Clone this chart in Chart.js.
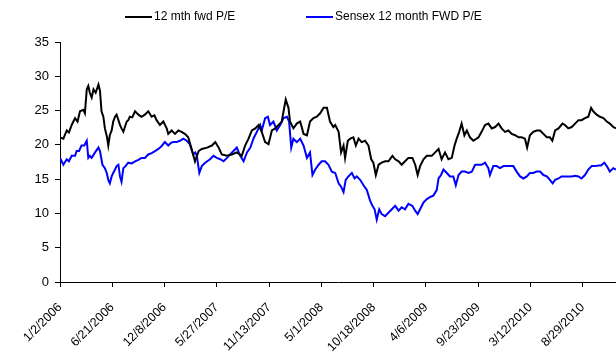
<!DOCTYPE html>
<html>
<head>
<meta charset="utf-8">
<script src="https://cdn.jsdelivr.net/npm/chart.js@4/dist/chart.umd.min.js"></script>
<style>
  html, body { margin: 0; padding: 0; background: #fff; }
  #wrap { position: relative; width: 616px; height: 351px; }
</style>
</head>
<body>
<div id="wrap"><canvas id="pe-chart"></canvas></div>
<script>
// days counted from 1/2/2006
var peDay = [0, 11, 22, 29, 38, 49, 57, 65, 76, 81, 87, 92, 97, 103, 109, 116, 125, 130, 135, 141,
  146, 153, 157, 162, 168, 173, 179, 184, 190, 195, 200, 206, 211, 217, 222, 227, 235, 244, 255, 265,
  276, 287, 298, 307, 314, 325, 336, 347, 352, 363, 374, 385, 395, 406, 417, 428, 439, 451, 461, 478,
  494, 505, 516, 526, 543, 559, 575, 591, 602, 613, 624, 635, 646, 656, 667, 678, 689, 700, 711, 721,
  727, 734, 743, 748, 759, 770, 781, 792, 803, 813, 824, 835, 846, 857, 868, 878, 889, 895, 906, 914,
  922, 927, 936, 944, 954, 962, 971, 981, 992, 1003, 1012, 1019, 1027, 1036, 1046, 1057, 1068, 1081, 1090, 1101,
  1111, 1122, 1133, 1146, 1155, 1163, 1171, 1182, 1193, 1209, 1220, 1231, 1241, 1252, 1263, 1274, 1283, 1290, 1298, 1306,
  1315, 1323, 1333, 1344, 1361, 1371, 1382, 1393, 1404, 1415, 1426, 1436, 1447, 1458, 1469, 1480, 1491, 1501, 1512, 1519,
  1528, 1539, 1550, 1561, 1572, 1583, 1593, 1601, 1610, 1621, 1634, 1642, 1653, 1664, 1675, 1686, 1696, 1707, 1718, 1727,
  1734, 1745, 1756, 1767, 1778, 1788, 1799, 1808];
var peValue = [21.1, 20.9, 22.1, 21.8, 22.9, 23.9, 23.4, 24.9, 25.1, 24.6, 28.1, 28.6, 27.6, 26.9, 28.1, 27.6, 28.8, 27.9, 24.9, 24.1,
  22.4, 21.1, 19.9, 21.4, 22.1, 23.4, 24.1, 24.4, 23.6, 22.9, 22.4, 21.9, 22.6, 23.4, 23.6, 24.1, 24.0, 24.9, 24.4, 24.1,
  24.4, 24.9, 24.1, 24.3, 23.6, 22.9, 23.4, 22.4, 21.6, 22.1, 21.6, 22.1, 21.9, 21.6, 21.1, 19.4, 17.6, 19.1, 19.4, 19.6,
  19.9, 20.4, 19.6, 18.6, 18.4, 18.6, 18.9, 18.4, 19.9, 20.9, 22.1, 22.4, 22.9, 21.9, 20.4, 20.1, 22.1, 22.4, 22.9, 23.4,
  24.9, 26.6, 25.4, 23.4, 22.4, 23.1, 23.4, 21.6, 21.4, 23.4, 23.9, 24.1, 24.6, 25.4, 25.4, 23.4, 22.6, 22.9, 21.9, 18.9,
  19.9, 18.1, 20.6, 20.9, 21.1, 19.9, 20.9, 20.4, 20.6, 19.9, 17.9, 17.4, 15.6, 17.1, 17.4, 17.6, 17.6, 18.4, 17.9, 17.6,
  17.1, 17.6, 18.1, 18.1, 17.1, 15.6, 16.9, 17.9, 18.4, 18.4, 18.9, 19.4, 17.9, 18.9, 17.9, 18.1, 19.9, 20.9, 21.9, 23.1,
  21.4, 22.1, 21.1, 20.6, 21.1, 21.9, 22.9, 23.1, 22.4, 22.6, 23.1, 22.4, 21.9, 22.1, 21.6, 21.4, 21.1, 21.1, 20.9, 19.6,
  21.4, 21.9, 22.1, 22.1, 21.6, 21.1, 21.1, 20.6, 22.1, 22.4, 23.1, 22.9, 22.4, 22.6, 23.1, 23.6, 23.6, 23.9, 24.1, 25.4,
  24.9, 24.4, 24.1, 23.9, 23.4, 23.1, 22.6, 22.4];

var sensexDay = [0, 11, 22, 29, 38, 49, 54, 62, 70, 79, 87, 92, 97, 103, 114, 125, 130, 138, 146, 152,
  157, 162, 168, 173, 179, 184, 190, 195, 200, 206, 213, 222, 233, 244, 255, 265, 276, 287, 298, 309,
  320, 330, 341, 352, 361, 368, 379, 390, 401, 412, 422, 433, 440, 445, 453, 461, 472, 488, 499, 510,
  521, 532, 543, 553, 564, 575, 586, 597, 608, 619, 629, 640, 651, 656, 667, 676, 683, 694, 705, 716,
  727, 738, 745, 752, 759, 770, 781, 792, 803, 813, 821, 830, 841, 851, 862, 873, 884, 895, 906, 914,
  922, 929, 938, 949, 958, 965, 976, 987, 998, 1008, 1016, 1023, 1030, 1038, 1046, 1057, 1068, 1079, 1090, 1101,
  1111, 1122, 1133, 1146, 1155, 1163, 1171, 1182, 1193, 1204, 1214, 1225, 1231, 1239, 1247, 1258, 1268, 1279, 1287, 1296,
  1306, 1317, 1328, 1339, 1350, 1361, 1371, 1382, 1393, 1398, 1409, 1420, 1431, 1442, 1453, 1463, 1474, 1485, 1496, 1507,
  1518, 1528, 1539, 1550, 1561, 1572, 1583, 1593, 1602, 1610, 1621, 1631, 1642, 1653, 1664, 1675, 1686, 1696, 1707, 1718,
  1729, 1740, 1751, 1759, 1770, 1778, 1788, 1799, 1808];
var sensexValue = [18.1, 17.1, 17.9, 17.6, 18.4, 18.4, 19.1, 19.1, 19.9, 19.9, 20.6, 18.1, 18.4, 18.1, 18.9, 19.6, 19.1, 17.1, 16.6, 15.9,
  14.9, 14.4, 15.4, 15.9, 16.4, 16.9, 17.1, 15.4, 14.6, 16.6, 16.9, 17.4, 17.3, 17.6, 17.8, 18.1, 18.1, 18.6, 18.8, 19.1,
  19.4, 19.8, 20.4, 19.9, 20.3, 20.4, 20.4, 20.6, 20.9, 20.6, 20.1, 18.6, 18.9, 18.4, 15.9, 16.9, 17.4, 17.9, 18.4, 18.1,
  17.9, 17.6, 18.1, 18.6, 19.1, 19.6, 18.4, 17.6, 18.9, 19.6, 20.9, 21.9, 22.9, 22.1, 23.9, 24.1, 22.9, 23.4, 22.1, 22.9,
  23.9, 24.1, 23.4, 19.6, 20.9, 20.4, 20.9, 19.9, 18.1, 18.9, 15.6, 16.4, 17.1, 17.6, 17.6, 17.1, 16.1, 15.9, 14.4, 13.9,
  13.1, 14.9, 15.4, 15.9, 15.1, 15.4, 14.9, 14.1, 13.4, 11.9, 11.1, 10.6, 9.1, 10.6, 9.9, 9.6, 10.1, 10.6, 11.1, 10.4,
  10.9, 10.6, 11.4, 11.1, 10.4, 9.9, 10.6, 11.6, 12.1, 12.4, 12.6, 13.4, 15.1, 15.6, 16.4, 15.9, 15.4, 15.4, 14.1, 15.6,
  16.1, 16.1, 15.9, 16.1, 17.1, 17.1, 17.1, 17.4, 16.6, 15.6, 16.9, 16.9, 16.6, 16.9, 16.9, 16.9, 16.9, 16.1, 15.4, 15.1,
  15.4, 15.9, 15.9, 16.1, 16.1, 15.6, 15.4, 14.9, 14.4, 14.9, 15.1, 15.4, 15.4, 15.4, 15.4, 15.5, 15.4, 15.1, 15.6, 16.4,
  16.9, 16.9, 17.0, 17.0, 17.4, 16.9, 16.1, 16.6, 16.4];

var tickDays = [0, 170, 340, 510, 680, 850, 1020, 1190, 1360, 1530, 1700];
var tickLabels = ["1/2/2006", "6/21/2006", "12/8/2006", "5/27/2007", "11/13/2007", "5/1/2008",
  "10/18/2008", "4/6/2009", "9/23/2009", "3/12/2010", "8/29/2010"];
var yTicks = [0, 5, 10, 15, 20, 25, 30, 35];

var seriesNames = ["12 mth fwd P/E", "Sensex 12 month FWD P/E"];
var seriesColors = ["#000000", "#0000ff"];

function toPoints(days, values) {
  return days.map(function (d, i) { return { x: d, y: values[i] }; });
}

// legend drawn along the top, line sample + label
const topLegend = {
  id: "topLegend",
  afterDraw(chart) {
    const ctx = chart.ctx;
    const items = [{ x: 125 }, { x: 306 }];
    ctx.save();
    ctx.font = "12px 'Liberation Sans', Arial, sans-serif";
    ctx.textBaseline = "middle";
    ctx.textAlign = "left";
    items.forEach(function (it, i) {
      ctx.strokeStyle = seriesColors[i];
      ctx.lineWidth = 2;
      ctx.beginPath();
      ctx.moveTo(it.x, 17);
      ctx.lineTo(it.x + 27, 17);
      ctx.stroke();
      ctx.fillStyle = "#000";
      ctx.fillText(seriesNames[i], it.x + 29, 17);
    });
    ctx.restore();
  },
};

const fontFamily = "'Liberation Sans', Arial, sans-serif";

const peChart = new Chart(document.getElementById("pe-chart"), {
  type: "line",
  data: {
    datasets: [
      {
        label: seriesNames[0],
        data: toPoints(peDay, peValue),
        borderColor: seriesColors[0],
        borderWidth: 2,
      },
      {
        label: seriesNames[1],
        data: toPoints(sensexDay, sensexValue),
        borderColor: seriesColors[1],
        borderWidth: 2,
      },
    ],
  },
  options: {
    animation: false,
    responsive: true,
    maintainAspectRatio: false,
    layout: { padding: { top: 42, right: 0, bottom: 0, left: 0 } },
    elements: { point: { radius: 0 }, line: { tension: 0 } },
    plugins: {
      legend: { display: false },
      tooltip: { enabled: false },
    },
    scales: {
      x: {
        type: "linear",
        min: 0,
        max: 1808,
        afterBuildTicks: function (scale) {
          scale.ticks = tickDays.map(function (v) { return { value: v }; });
        },
        afterFit: function (scale) { scale.height = 69; },
        grid: { drawOnChartArea: false, drawTicks: true, tickLength: 5, color: "#000" },
        border: { display: true, color: "#000", width: 1 },
        ticks: {
          autoSkip: false,
          minRotation: 45,
          maxRotation: 45,
          padding: 13,
          color: "#000",
          font: { family: fontFamily, size: 12.5 },
          callback: function (value, index) { return tickLabels[index]; },
        },
      },
      y: {
        min: 0,
        max: 35,
        afterBuildTicks: function (scale) {
          scale.ticks = yTicks.map(function (v) { return { value: v }; });
        },
        afterFit: function (scale) { scale.width = 60; },
        grid: { drawOnChartArea: false, drawTicks: true, tickLength: 5, color: "#000" },
        border: { display: true, color: "#000", width: 1 },
        ticks: {
          padding: 6,
          color: "#000",
          font: { family: fontFamily, size: 13 },
        },
      },
    },
  },
  plugins: [topLegend],
});
</script>
</body>
</html>
